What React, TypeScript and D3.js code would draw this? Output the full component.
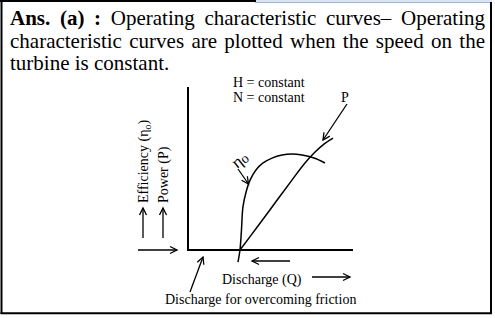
import React, { useEffect, useRef } from "react";
import * as d3 from "d3";

// Header text lines (justified paragraph)
const headerLine1 = ["Ans.", "(a)", ":", "Operating", "characteristic", "curves–", "Operating"];
const headerBold = [true, true, true, false, false, false, false];
const headerLine2 = ["characteristic", "curves", "are", "plotted", "when", "the", "speed", "on", "the"];
const headerLine3 = "turbine is constant.";

// Efficiency curve (discharge %, efficiency %)
const effQ = [30.3, 31.5, 32.4, 33.3, 35.2, 37.6, 41.2, 45.5, 50.9, 57, 63, 69.1, 76.4, 83];
const effV = [-7.4, 0, 12.3, 26.4, 35.6, 42.9, 49.1, 53.4, 56.4, 58.3, 58.9, 58.3, 56.4, 53.4];

// Power curve (discharge %, power %)
const powQ = [31.5, 42.4, 52.7, 63, 70.9, 77, 82.4, 87.9];
const powV = [0, 14.7, 28.8, 42.9, 53.4, 60.1, 65, 68.7];

const constLabels = ["H = constant", "N = constant"];

const FONT = "'Liberation Serif', 'Times New Roman', serif";

export default function App() {
  const ref = useRef<SVGSVGElement | null>(null);

  useEffect(() => {
    const svg = d3.select(ref.current);
    svg.selectAll("*").remove();

    // frame
    svg.append("rect").attr("x", 255).attr("y", 0).attr("width", 237).attr("height", 3).attr("fill", "#dbe5f1");
    svg.append("line").attr("x1", 255).attr("x2", 492).attr("y1", 2.5).attr("y2", 2.5).attr("stroke", "#9fb6d6").attr("stroke-width", 1);
    svg.append("line").attr("x1", 0).attr("x2", 256).attr("y1", 1).attr("y2", 1).attr("stroke", "#000").attr("stroke-width", 2);
    svg.append("line").attr("x1", 1.5).attr("x2", 1.5).attr("y1", 0).attr("y2", 314).attr("stroke", "#000").attr("stroke-width", 2);
    svg.append("line").attr("x1", 491).attr("x2", 491).attr("y1", 2).attr("y2", 314).attr("stroke", "#000").attr("stroke-width", 2);
    svg.append("line").attr("x1", 0.5).attr("x2", 492).attr("y1", 313.3).attr("y2", 313.3).attr("stroke", "#000").attr("stroke-width", 2);

    // justified header
    const left = 10, right = 485;
    const fs = 21;
    const justify = (words: string[], bold: boolean[], y: number) => {
      const nodes = words.map((w, i) =>
        svg.append("text")
          .attr("y", y)
          .attr("font-family", FONT)
          .attr("font-size", fs)
          .attr("font-weight", bold[i] ? "bold" : "normal")
          .attr("fill", "#000")
          .text(w)
      );
      const widths = nodes.map((n) => (n.node() as SVGTextElement).getComputedTextLength());
      const total = widths.reduce((a, b) => a + b, 0);
      const gap = (right - left - total) / (words.length - 1);
      let x = left;
      nodes.forEach((n, i) => {
        n.attr("x", x);
        x += widths[i] + gap;
      });
    };
    justify(headerLine1, headerBold, 25);
    justify(headerLine2, headerLine2.map(() => false), 47.5);
    svg.append("text").attr("x", left).attr("y", 70).attr("font-family", FONT).attr("font-size", fs).text(headerLine3);

    // scales
    const x = d3.scaleLinear().domain([0, 100]).range([188, 353]);
    const y = d3.scaleLinear().domain([0, 100]).range([250, 87]);

    const g = svg.append("g");

    // axes
    g.append("line").attr("x1", x(0)).attr("x2", x(0)).attr("y1", y(100)).attr("y2", y(0) + 1).attr("stroke", "#000").attr("stroke-width", 2);
    g.append("line").attr("x1", x(0)).attr("x2", x(100)).attr("y1", y(0)).attr("y2", y(0)).attr("stroke", "#000").attr("stroke-width", 2);

    const line = d3.line<[number, number]>().x((d) => x(d[0])).y((d) => y(d[1])).curve(d3.curveCatmullRom.alpha(0.5));
    const effPts: [number, number][] = effQ.map((q, i) => [q, effV[i]]);
    const powPts: [number, number][] = powQ.map((q, i) => [q, powV[i]]);
    g.append("path").attr("d", line(effPts) as string).attr("fill", "none").attr("stroke", "#000").attr("stroke-width", 1.5);
    g.append("path").attr("d", line(powPts) as string).attr("fill", "none").attr("stroke", "#000").attr("stroke-width", 1.5);

    const arrow = (x1: number, y1: number, x2: number, y2: number, L = 7, W = 3.5) => {
      g.append("line").attr("x1", x1).attr("y1", y1).attr("x2", x2).attr("y2", y2).attr("stroke", "#000").attr("stroke-width", 1.3);
      const a = Math.atan2(y2 - y1, x2 - x1);
      const p1 = [x2 - L * Math.cos(a) + W * Math.sin(a), y2 - L * Math.sin(a) - W * Math.cos(a)];
      const p2 = [x2 - L * Math.cos(a) - W * Math.sin(a), y2 - L * Math.sin(a) + W * Math.cos(a)];
      g.append("path")
        .attr("d", `M${p1[0]},${p1[1]}L${x2},${y2}L${p2[0]},${p2[1]}`)
        .attr("fill", "none").attr("stroke", "#000").attr("stroke-width", 1.3);
    };

    // left arrows
    arrow(143, 238, 143, 208);
    arrow(163, 238, 163, 208);
    arrow(138, 250, 177, 250);

    // rotated axis labels
    const eff = g.append("text").attr("transform", "translate(148,203) rotate(-90)")
      .attr("font-family", FONT).attr("font-size", 14);
    eff.append("tspan").text("Efficiency (η");
    eff.append("tspan").attr("font-size", 10).attr("dy", 3).text("o");
    eff.append("tspan").attr("dy", -3).text(")");
    g.append("text").attr("transform", "translate(168,203) rotate(-90)")
      .attr("font-family", FONT).attr("font-size", 14).text("Power (P)");

    // constants
    constLabels.forEach((t, i) => {
      g.append("text").attr("x", 233).attr("y", 87 + i * 15).attr("font-family", FONT).attr("font-size", 14).text(t);
    });

    // P label & arrow
    g.append("text").attr("x", 341).attr("y", 102).attr("font-family", FONT).attr("font-size", 14).text("P");
    arrow(347, 104, 323, 140);

    // eta label & arrow
    const eta = g.append("text").attr("transform", "translate(237,169) rotate(-38)")
      .attr("font-family", FONT).attr("font-size", 17);
    eta.append("tspan").text("η");
    eta.append("tspan").attr("font-size", 14).attr("dy", 1).text("o");
    arrow(238, 169, 248.5, 184);

    // arrow below axis
    arrow(290, 261, 252, 261);

    // discharge label
    g.append("text").attr("x", 222).attr("y", 284).attr("font-family", FONT).attr("font-size", 14).text("Discharge (Q)");
    arrow(312, 277, 350, 277);

    // friction label
    g.append("text").attr("x", 165).attr("y", 304).attr("font-family", FONT).attr("font-size", 14).text("Discharge for overcoming friction");
    arrow(190, 292, 203, 257);
  }, []);

  return (
    <svg
      ref={ref}
      width={495}
      height={318}
      style={{ position: "absolute", left: 0, top: 0, background: "#fff" }}
    />
  );
}
